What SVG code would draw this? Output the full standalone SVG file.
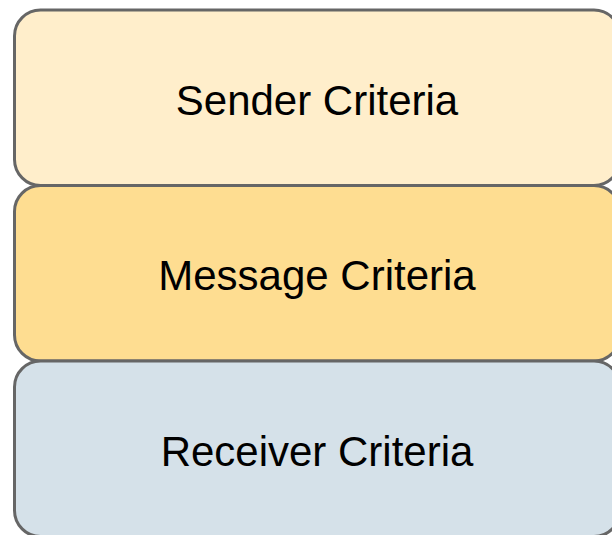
<svg xmlns="http://www.w3.org/2000/svg" width="612" height="535" viewBox="0 0 612 535">
<style>
.box{stroke:#666666;stroke-width:3}
.lbl{font-family:"Liberation Sans",Arial,sans-serif;font-size:42px;fill:#000000;text-anchor:middle}
</style>
<rect width="612" height="535" fill="#ffffff"/>
<g id="sender">
<rect class="box" x="14.5" y="10" width="605.5" height="175.5" rx="26" ry="26" fill="#FFEECB"/>
<text class="lbl" x="317" y="115">Sender Criteria</text>
</g>
<g id="message">
<rect class="box" x="14.5" y="185.5" width="605.5" height="175.5" rx="26" ry="26" fill="#FEDD91"/>
<text class="lbl" x="317" y="290">Message Criteria</text>
</g>
<g id="receiver">
<rect class="box" x="14.5" y="361" width="605.5" height="175.5" rx="26" ry="26" fill="#D5E1E9"/>
<text class="lbl" x="317" y="465.5">Receiver Criteria</text>
</g>
<g id="connectors"></g>
</svg>
